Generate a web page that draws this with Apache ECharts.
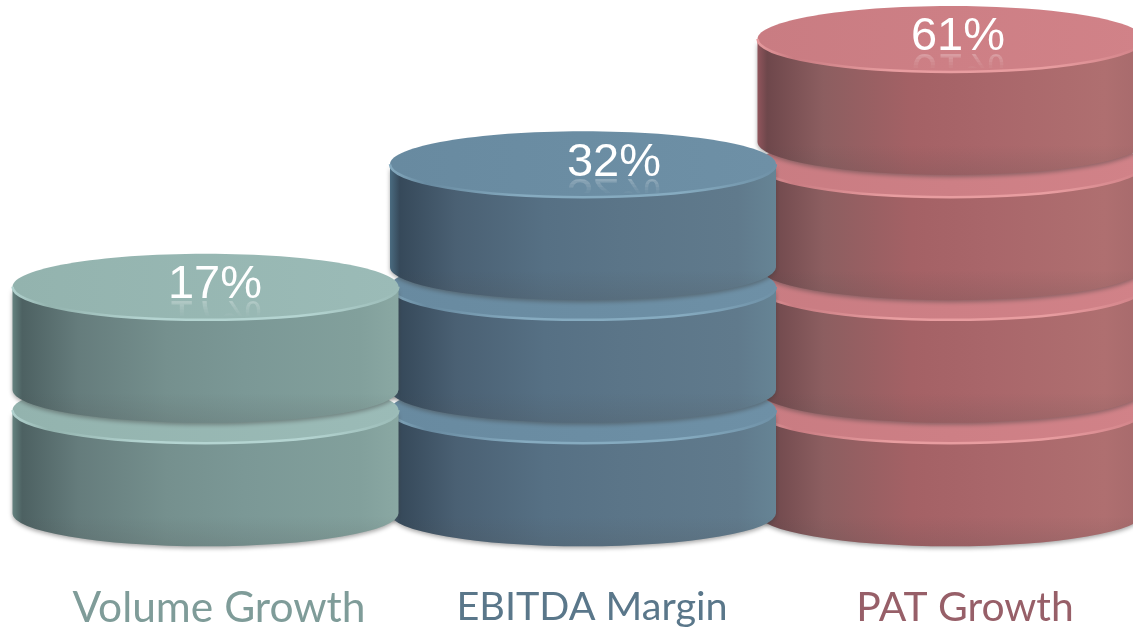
<!DOCTYPE html>
<html>
<head>
<meta charset="utf-8">
<style>html,body{margin:0;padding:0;background:#fff}#chart{width:1133px;height:631px}</style>
<script src="https://cdn.jsdelivr.net/npm/echarts@6/dist/echarts.min.js"></script>
</head>
<body>
<div id="chart"></div>
<script>
// Growth metrics shown as stacks of discs on a logarithmic scale
const categories = ['Volume Growth', 'EBITDA Margin', 'PAT Growth'];
const percentages = [17, 32, 61];
// Scale value at the front edge of each disc's top face, shared by all stacks
const discLevels = [9, 17, 32, 61];

const scaleMin = 5.3;
const scaleMax = 88.4;

// Disc geometry, in pixels
const RX = 193, RY = 33, DISC_H = 103;
const stackNudge = [-13.5, -9, -14.5];
const labelNudge = [-4, 22, -7];
const captionSize = [42.5, 39.6, 40.8];

const LG = echarts.graphic.LinearGradient;
const palettes = [
  { text: '#7f9c99', top: ['#93b3ae', '#9bbbb7'], rim: '#b4d4d1',
    side: ['#64827f', '#4d6162', '#657c7c', '#75908e', '#7b9896', '#82a09c', '#8aa8a3'] },
  { text: '#5a778a', top: ['#688aa0', '#6e90a6'], rim: '#86abc0',
    side: ['#4a6b80', '#36495a', '#4a6073', '#567084', '#5b7588', '#607a8c', '#668495'] },
  { text: '#975f68', top: ['#c97c82', '#d18288'], rim: '#e89da0',
    side: ['#91555c', '#6e474b', '#8c5e60', '#a46165', '#a9666a', '#af6f70', '#a66a6c'] }
];

// Front-to-back order: the right stack sits behind, lower discs under upper ones
const discs = [];
for (let i = categories.length - 1; i >= 0; i--) {
  discLevels.filter(l => l <= percentages[i]).forEach(l => discs.push([i, l]));
}

function renderDisc(params, api) {
  const i = api.value(0), level = api.value(1);
  const p = api.coord([i, level]);
  const cx = p[0] + stackNudge[i], front = p[1], cy = front - RY;
  const c = palettes[i];
  const x0 = cx - RX, x1 = cx + RX, yb = cy + DISC_H;
  const sidePath = `M${x0} ${cy}A${RX} ${RY} 0 0 0 ${x1} ${cy}L${x1} ${yb}A${RX} ${RY} 0 0 1 ${x0} ${yb}Z`;
  const rimPath = `M${x0} ${cy}A${RX} ${RY} 0 0 0 ${x1} ${cy}`;
  const stops = [0, 0.025, 0.17, 0.4, 0.6, 0.9, 1];
  const children = [
    { type: 'path', shape: { pathData: sidePath },
      style: { fill: new LG(0, 0, 1, 0, c.side.map((color, k) => ({ offset: stops[k], color }))),
               shadowColor: 'rgba(60,60,60,0.45)', shadowBlur: 4, shadowOffsetY: 2 } },
    { type: 'path', shape: { pathData: sidePath },
      style: { fill: new LG(0, 0, 0, 1, [
        { offset: 0, color: 'rgba(70,70,70,0)' },
        { offset: 0.78, color: 'rgba(70,70,70,0)' },
        { offset: 1, color: 'rgba(70,70,70,0.16)' }]) } },
    { type: 'ellipse', shape: { cx, cy, rx: RX, ry: RY },
      style: { fill: new LG(0, 0, 1, 0, [{ offset: 0, color: c.top[0] }, { offset: 1, color: c.top[1] }]) } },
    { type: 'path', shape: { pathData: rimPath },
      style: { fill: 'none', lineWidth: 2.5, stroke: new LG(0, 0, 1, 0, [
        { offset: 0, color: c.rim }, { offset: 0.1, color: c.top[0] },
        { offset: 0.35, color: c.rim }, { offset: 0.75, color: c.rim }, { offset: 1, color: c.top[1] }]) } }
  ];
  if (level === percentages[i]) {
    const tx = p[0] + labelNudge[i], base = front - 21;
    const font = '47px "Liberation Sans", Arial, sans-serif';
    // Fading mirror image of the percentage, laid down in narrow bands
    [0.24, 0.18, 0.13, 0.08, 0.04].forEach((alpha, k) => {
      children.push({ type: 'group',
        clipPath: { type: 'rect', shape: { x: tx - 70, y: base + 2 + k * 3, width: 140, height: 3 } },
        children: [{ type: 'text', x: tx, y: base - 8, scaleY: -1,
          style: { text: level + '%', font, align: 'center', verticalAlign: 'bottom',
                   fill: `rgba(255,255,255,${alpha})` } }] });
    });
    children.push({ type: 'text', x: tx, y: base + 10,
      style: { text: level + '%', font, align: 'center', verticalAlign: 'bottom', fill: '#ffffff' } });
  }
  return { type: 'group', children };
}

const chart = echarts.init(document.getElementById('chart'), null, { renderer: 'canvas' });
chart.setOption({
  animation: false,
  backgroundColor: '#ffffff',
  grid: { left: 219, right: 168, top: 0, height: 546 },
  xAxis: {
    type: 'category',
    boundaryGap: false,
    data: categories.map((value, i) => ({
      value,
      textStyle: { color: palettes[i].text, fontSize: captionSize[i] }
    })),
    axisLine: { show: false },
    axisTick: { show: false },
    axisLabel: { margin: 41, fontFamily: 'Lato', fontSize: 42.5, interval: 0 }
  },
  yAxis: { type: 'log', logBase: 10, min: scaleMin, max: scaleMax, show: false, splitLine: { show: false } },
  series: [{
    type: 'custom',
    coordinateSystem: 'cartesian2d',
    clip: false,
    renderItem: renderDisc,
    encode: { x: 0, y: 1 },
    data: discs
  }]
});
</script>
</body>
</html>
